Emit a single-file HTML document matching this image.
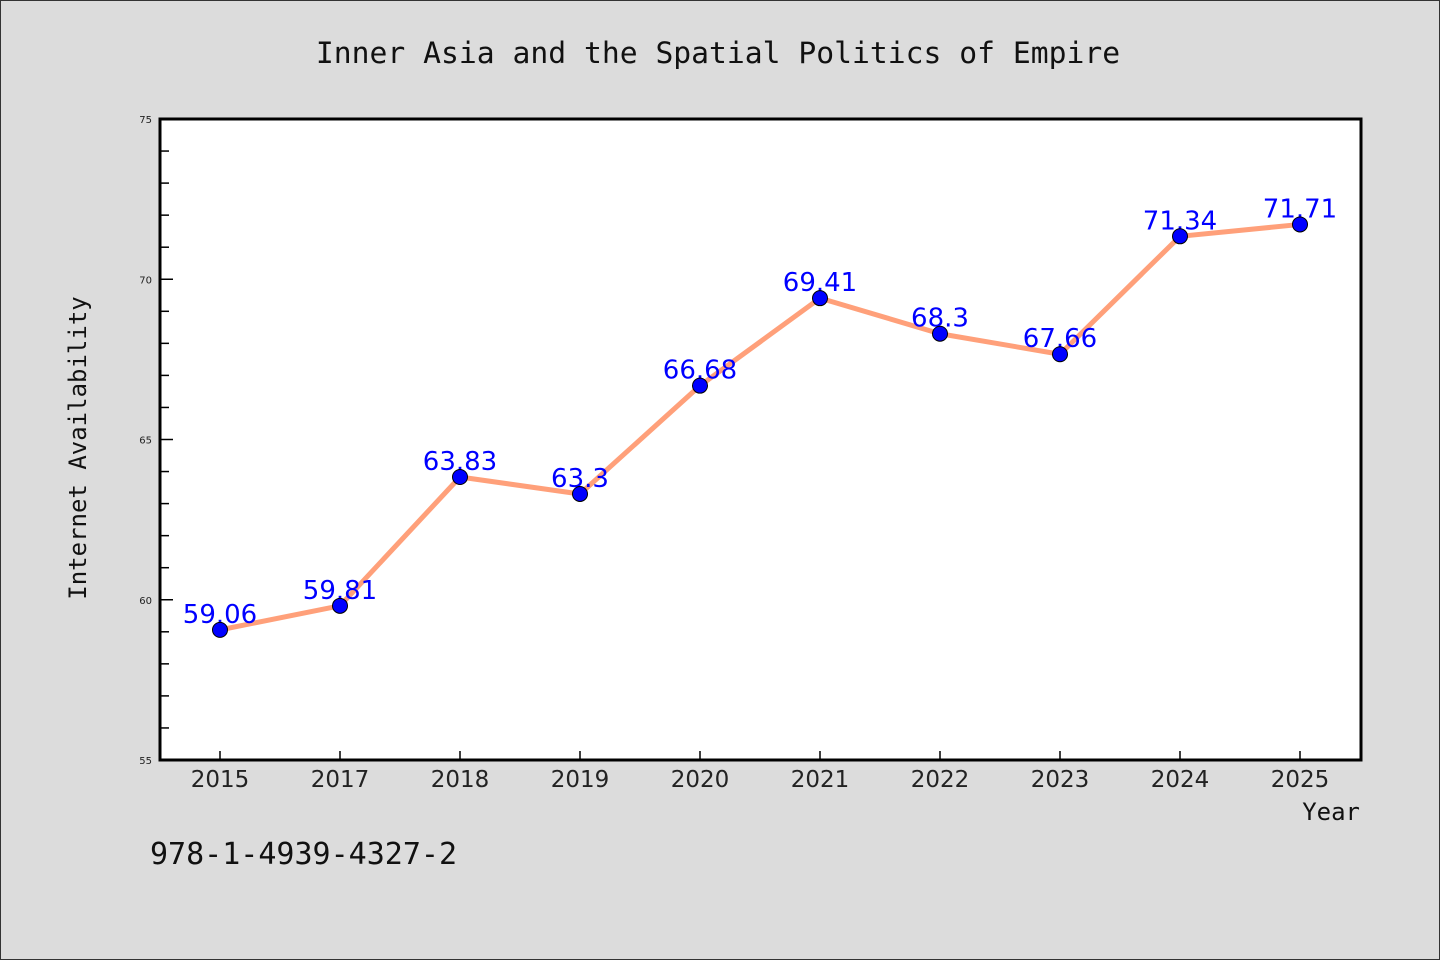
<!DOCTYPE html>
<html><head><meta charset="utf-8"><style>
body{margin:0;background:#dcdcdc}
svg{display:block}
</style></head><body>
<svg width="1440" height="960" xmlns="http://www.w3.org/2000/svg">
<rect x="0.5" y="0.5" width="1439" height="959" fill="#dcdcdc" stroke="#333"/>
<text x="718" y="63" text-anchor="middle" font-family="DejaVu Sans Mono, monospace" font-size="29.7" fill="#111">Inner Asia and the Spatial Politics of Empire</text>
<rect x="160" y="119" width="1201" height="641" fill="#fff"/>
<g id="axes"></g>
<g id="series"></g>
<rect x="160" y="119" width="1201" height="641" fill="none" stroke="#000" stroke-width="3"/>
<text x="86" y="448" text-anchor="middle" transform="rotate(-90 86 448)" font-family="DejaVu Sans Mono, monospace" font-size="24" fill="#111">Internet Availability</text>
<text x="1360" y="820" text-anchor="end" font-family="DejaVu Sans Mono, monospace" font-size="24" fill="#111">Year</text>
<text x="150" y="864" font-family="DejaVu Sans Mono, monospace" font-size="30" fill="#111">978-1-4939-4327-2</text>
</svg>
<script>
const categories = ["2015","2017","2018","2019","2020","2021","2022","2023","2024","2025"];
const values = [59.06,59.81,63.83,63.3,66.68,69.41,68.3,67.66,71.34,71.71];
const valueLabels = ["59.06","59.81","63.83","63.3","66.68","69.41","68.3","67.66","71.34","71.71"];
const yTicks = [55,60,65,70,75];
(function(){
const NS="http://www.w3.org/2000/svg";
const yMin=55,yMax=75,plotTop=119,plotBot=760,plotLeft=160,step=120;
const y=v=>plotBot-(v-yMin)/(yMax-yMin)*(plotBot-plotTop);
const x=i=>plotLeft+60+i*step;
function mk(t,a,p){const e=document.createElementNS(NS,t);for(const k in a)e.setAttribute(k,a[k]);p.appendChild(e);return e;}
const ax=document.getElementById('axes'), se=document.getElementById('series');
for(let v=yMin;v<=yMax;v++){
  const major=yTicks.includes(v);
  const l=mk('line',{x1:plotLeft,x2:plotLeft+(major?13:9),y1:y(v),y2:y(v),stroke:'#000','stroke-width':1.5},ax);
  
  
}
yTicks.forEach(v=>{
  const t=mk('text',{x:152,y:y(v)+4,'text-anchor':'end','font-family':'DejaVu Sans, sans-serif','font-size':10,fill:'#222'},ax);
  t.textContent=v;
  
  
});
categories.forEach((c,i)=>{
  const l=mk('line',{x1:x(i),x2:x(i),y1:plotBot-9,y2:plotBot,stroke:'#000','stroke-width':1.5},ax);
  
  
  const t=mk('text',{x:x(i),y:plotBot+27,'text-anchor':'middle','font-family':'DejaVu Sans, sans-serif','font-size':23,fill:'#222'},ax);
  t.textContent=c;
  
  
});
const line=mk('polyline',{points:values.map((v,i)=>x(i)+','+y(v)).join(' '),fill:'none',stroke:'#ffa07a','stroke-width':5,'stroke-linejoin':'round'},se);


values.forEach((v,i)=>{
  const t=mk('text',{x:x(i),y:y(v)-7,'text-anchor':'middle','font-family':'DejaVu Sans, sans-serif','font-size':26,fill:'#0000ff'},se);
  t.textContent=valueLabels[i];
  
  
});
values.forEach((v,i)=>{
  const c=mk('circle',{cx:x(i),cy:y(v),r:7.5,fill:'#0000ff',stroke:'#000','stroke-width':1},se);
  
  
});
})();
</script>
</body></html>
